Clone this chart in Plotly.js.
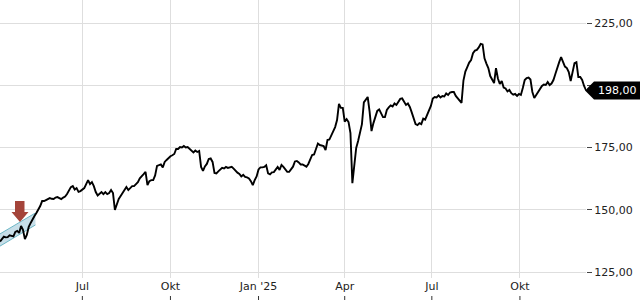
<!DOCTYPE html>
<html><head><meta charset="utf-8">
<script src="https://cdn.plot.ly/plotly-3.0.1.min.js"></script>
<style>html,body{margin:0;padding:0;background:#fff}#chart{width:640px;height:300px}</style>
</head><body><div id="chart"></div>
<script>
// ---- data ----
const startDate = '2024-04-06';
const stepDays = 2;
const closeValues = [
137.2,138.2,139.2,138.9,139.0,139.7,139.5,139.3,141.1,141.5,
140.7,143.5,141.9,138.2,139.9,143.1,144.7,146.3,147.5,148.7,
149.9,151.5,153.5,153.5,153.9,154.4,154.7,154.4,154.3,154.9,
155.1,154.7,154.3,154.9,155.3,156.3,157.5,159.1,159.5,158.1,
158.7,157.2,157.5,158.3,158.7,160.3,161.9,160.3,161.1,159.5,
157.1,155.7,156.5,157.1,156.3,157.1,156.3,156.7,157.9,156.7,
149.9,152.5,154.3,155.5,156.7,158.3,159.1,157.9,158.7,159.5,
159.5,160.3,161.1,162.6,163.3,164.3,165.2,159.9,161.5,161.9,
161.9,163.8,167.6,167.8,168.2,167.0,169.2,170.0,170.8,171.5,
171.9,172.4,174.4,174.4,175.2,175.0,175.6,175.0,175.2,174.4,
173.6,173.0,173.8,173.2,173.6,167.2,165.6,167.4,168.4,170.4,
170.6,169.2,164.8,164.6,165.4,166.2,166.8,166.6,167.2,166.8,
166.9,167.2,166.5,165.6,164.9,164.4,163.4,164.0,163.2,163.0,
162.6,161.5,159.9,161.9,163.4,166.2,167.0,167.0,167.2,167.9,
164.6,164.2,165.0,165.1,166.4,167.2,166.0,168.0,167.2,166.4,
165.2,165.2,166.4,167.3,169.4,169.6,169.0,168.2,168.2,167.8,
167.3,168.4,170.4,172.0,172.2,174.8,176.6,176.0,175.8,175.6,
174.0,178.0,178.2,180.0,181.4,183.2,186.0,192.5,190.9,190.9,
185.4,186.4,185.2,180.8,160.7,168.0,174.8,177.6,180.6,184.4,
193.1,194.5,195.3,189.4,181.6,184.8,187.2,189.7,190.3,188.9,
187.2,187.2,190.1,191.1,191.9,191.5,192.7,192.1,193.6,194.5,
194.7,193.3,192.1,192.7,191.3,189.1,186.8,184.4,184.0,184.8,
184.4,186.6,186.2,188.1,189.5,191.7,194.7,195.3,195.1,195.9,
195.1,195.7,195.5,196.7,196.1,197.1,197.3,197.3,195.7,194.8,
194.1,192.9,201.9,205.5,207.3,209.1,210.1,212.9,213.9,214.2,
215.2,216.6,216.4,210.8,208.7,206.9,203.7,202.3,200.9,206.9,
202.7,200.5,201.7,199.1,198.7,197.5,198.1,196.8,196.2,196.5,
195.7,196.5,196.1,198.9,202.1,202.9,203.1,202.3,197.3,194.9,
196.1,197.5,198.7,199.7,200.3,200.1,201.3,200.1,200.7,202.1,
204.5,207.3,209.3,211.3,209.3,207.5,206.9,205.3,201.7,205.3,
208.9,209.3,203.3,203.3,202.1,199.7,198.0
];
const lastPrice = 198.00;
const tickDates = ['2024-07-01','2024-10-01','2025-01-01','2025-04-01','2025-07-01','2025-10-01'];
const tickLabels = ['Jul','Okt',"Jan '25",'Apr','Jul','Okt'];
const yTicks = [125,150,175,200,225];
const channelDates = ['2024-04-06','2024-05-13'];
const channelUpper = [140.3, 148.7];
const channelLower = [135.4, 143.9];

// ---- build ----
const dates = closeValues.map((_, i) => {
  const d = new Date(startDate + 'T00:00:00Z');
  d.setUTCDate(d.getUTCDate() + i * stepDays);
  return d.toISOString().slice(0, 10);
});
const fmt = v => v.toFixed(2).replace('.', ',');

const W = 586; // plot width px
const px2paperX = p => p / W;
const px2paperY = p => 1 - p / 300;

const traces = [
  {x: channelDates.concat(channelDates.slice().reverse()),
   y: channelUpper.concat(channelLower.slice().reverse()),
   type: 'scatter', mode: 'lines', fill: 'toself',
   fillcolor: 'rgba(185,214,226,0.8)', line: {width: 0}, hoverinfo: 'skip'},
  {x: channelDates, y: channelUpper, type: 'scatter', mode: 'lines',
   line: {color: '#6db7c6', width: 1}, hoverinfo: 'skip'},
  {x: channelDates, y: channelLower, type: 'scatter', mode: 'lines',
   line: {color: '#6db7c6', width: 1}, hoverinfo: 'skip'},
  {x: dates, y: closeValues, type: 'scatter', mode: 'lines',
   line: {color: '#000', width: 1.9}}
];

const arrowPts = [[15,201],[24.5,201],[24.5,212],[28.5,212],[20,222],[11.5,212],[15,212]];
const arrowPath = 'M ' + arrowPts.map(p => px2paperX(p[0]).toFixed(4) + ',' + px2paperY(p[1]).toFixed(4)).join(' L ') + ' Z';

const shapes = [
  {type: 'path', xref: 'paper', yref: 'paper', path: arrowPath,
   fillcolor: '#a4443a', line: {width: 0}, layer: 'above'},
  // last price marker
  {type: 'path', xref: 'paper', yref: 'paper',
   path: 'M ' + px2paperX(585) + ',' + px2paperY(90.5) +
         ' L ' + px2paperX(594) + ',' + px2paperY(81.5) +
         ' L ' + px2paperX(640) + ',' + px2paperY(81.5) +
         ' L ' + px2paperX(640) + ',' + px2paperY(99.5) +
         ' L ' + px2paperX(594) + ',' + px2paperY(99.5) + ' Z',
   fillcolor: '#000', line: {width: 0}, layer: 'above'}
].concat(tickDates.map(d => ({type: 'line', xref: 'x', yref: 'paper',
   x0: d, x1: d, y0: 0, y1: 4/300, line: {color: '#333', width: 1}})));

const layout = {
  width: 640, height: 300,
  margin: {l: 0, r: 54, t: 0, b: 0},
  paper_bgcolor: '#fff', plot_bgcolor: '#fff',
  showlegend: false,
  font: {family: 'DejaVu Sans', size: 11, color: '#222'},
  xaxis: {type: 'date', range: ['2024-04-06', '2025-12-09'],
    tickvals: tickDates, ticktext: tickLabels, ticks: '',
    showgrid: true, gridcolor: '#dedede', gridwidth: 1,
    zeroline: false, showline: false, fixedrange: true,
    tickfont: {family: 'DejaVu Sans', size: 11, color: '#222'}},
  yaxis: {side: 'right', domain: [22/300, 1], range: [122.59, 234.24],
    tickvals: yTicks,
    ticktext: yTicks.map(v => Math.abs(v - lastPrice) < 4 ? '' : fmt(v)),
    ticks: 'outside',
    ticklen: 5, tickcolor: '#444', showgrid: true, gridcolor: '#dedede',
    zeroline: false, showline: false, fixedrange: true,
    tickfont: {family: 'DejaVu Sans', size: 11, color: '#222'}},
  shapes: shapes,
  annotations: [{xref: 'paper', yref: 'paper', x: px2paperX(617), y: px2paperY(90.5),
    text: fmt(lastPrice), showarrow: false, xanchor: 'center', yanchor: 'middle',
    font: {family: 'DejaVu Sans', size: 11, color: '#fff'}}]
};

Plotly.newPlot('chart', traces, layout, {displayModeBar: false, staticPlot: true});
</script>
</body></html>
